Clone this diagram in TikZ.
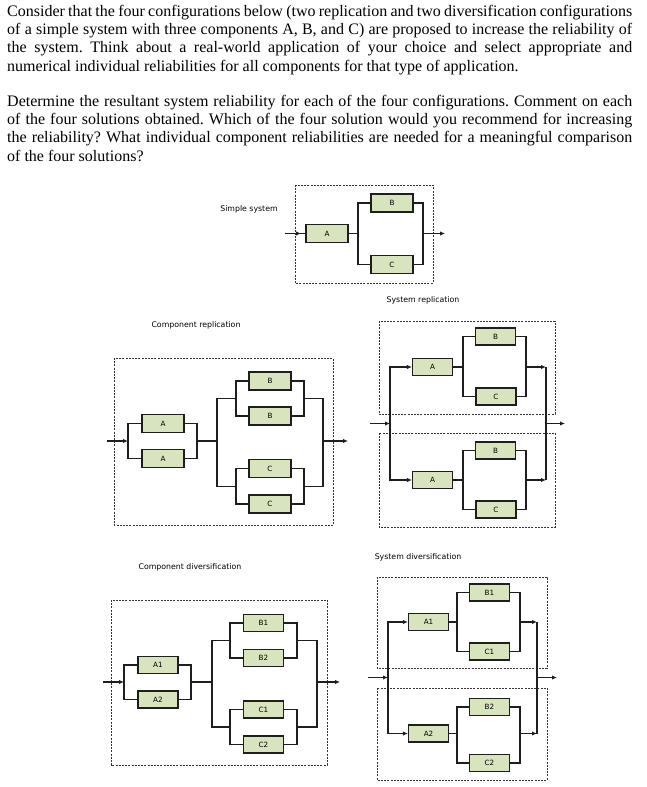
\documentclass[tikz,border=0pt]{standalone}
\usepackage{fontspec}
\setmainfont{Liberation Serif}
\newfontfamily\dgfont{DejaVu Sans}
\usetikzlibrary{arrows.meta}
\definecolor{compgreen}{RGB}{215,228,189}
\definecolor{wirec}{RGB}{30,30,30}
\frenchspacing
\begin{document}
\begin{tikzpicture}[x=1pt,y=-1pt,
  comp/.style={draw=wirec, fill=compgreen, line width=1.2pt, minimum width=42pt, minimum height=18pt, inner sep=0pt, font=\dgfont\fontsize{7.2}{8}\selectfont},
  compS/.style={comp, minimum width=40pt, minimum height=17pt},
  wire/.style={draw=wirec, line width=1.2pt},
  arr/.style={wire, -{Latex[length=5pt,width=4.5pt]}},
  frame/.style={draw=black!80, line width=0.7pt, dash pattern=on 2pt off 1.2pt},
  lbl/.style={font=\dgfont\fontsize{7.8}{9}\selectfont, inner sep=0pt},
  para/.style={anchor=north west, inner sep=0pt, text width=625pt, align=justify, font=\fontsize{16}{18.4}\selectfont\frenchspacing}
]
\useasboundingbox (0,0) rectangle (646,787);

% ---------- text ----------
\node[para] (p1) at (7,3.1) {\strut Consider that the four configurations below (two replication and two diversification configurations\linebreak of a simple system with three components A, B, and C) are proposed to increase the reliability of\linebreak the system. Think about a real-world application of your choice and select appropriate and\linebreak numerical individual reliabilities for all components for that type of application.};
\node[para] (p2) at (7,93.1) {\strut Determine the resultant system reliability for each of the four configurations. Comment on each\linebreak of the four solutions obtained. Which of the four solution would you recommend for increasing\linebreak the reliability? What individual component reliabilities are needed for a meaningful comparison\linebreak of the four solutions?};

% ---------- simple system ----------
\draw[frame] (295,185) rectangle (433,283);
\node[lbl] (lsim) at (249,209) {Simple system};
\node[comp] (sA) at (327,233.5) {A};
\node[comp] (sB) at (392,203) {B};
\node[comp] (sC) at (392,264.5) {C};
\coordinate (sin) at (285,233.5);
\coordinate (sar) at (301,233.5);
\coordinate (sj1) at (358,233.5);
\coordinate (sj2) at (423,233.5);
\coordinate (sout) at (445,233.5);
\draw[wire] (sin) -- (sA.west);
\draw[arr] (sin) -- (sar);
\draw[wire] (sA.east) -- (sj1);
\draw[wire] (sB.west) -| (sj1) |- (sC.west);
\draw[wire] (sB.east) -| (sj2) |- (sC.east);
\draw[arr] (sj2) -- (sout);

% ---------- component replication ----------
\draw[frame] (114,358) rectangle (333,525);
\node[lbl] (lcr) at (196,325) {Component replication};
\node[comp] (cA1) at (163,423.5) {A};
\node[comp] (cA2) at (163,458.5) {A};
\node[comp] (cB1) at (270,381) {B};
\node[comp] (cB2) at (270,416) {B};
\node[comp] (cC1) at (270,468.5) {C};
\node[comp] (cC2) at (270,504) {C};
\coordinate (cin) at (107,441);
\coordinate (cj1) at (128,441);
\coordinate (cj2) at (197,441);
\coordinate (cj3) at (217,441);
\coordinate (cjB) at (236,398.5);
\coordinate (cjC) at (236,486.25);
\coordinate (cjB2) at (304,398.5);
\coordinate (cjC2) at (304,486.25);
\coordinate (cj4) at (323,441);
\coordinate (cout) at (348,441);
\draw[arr] (cin) -- (cj1);
\draw[wire] (cA1.west) -| (cj1) |- (cA2.west);
\draw[wire] (cA1.east) -| (cj2) |- (cA2.east);
\draw[wire] (cj2) -- (cj3);
\draw[wire] (cB1.west) -| (cjB) |- (cB2.west);
\draw[wire] (cC1.west) -| (cjC) |- (cC2.west);
\draw[wire] (cjB) -| (cj3) |- (cjC);
\draw[wire] (cB1.east) -| (cjB2) |- (cB2.east);
\draw[wire] (cC1.east) -| (cjC2) |- (cC2.east);
\draw[wire] (cjB2) -| (cj4) |- (cjC2);
\draw[arr] (cj4) -- (cout);

% ---------- system replication ----------
\draw[frame] (379,321) rectangle (555,414);
\draw[frame] (379,433) rectangle (555,527);
\node[lbl] (lsr) at (423,300) {System replication};
\node[compS] (rA1) at (432.5,367) {A};
\node[compS] (rB1) at (495.5,336.5) {B};
\node[compS] (rC1) at (496,396.5) {C};
\node[compS] (rA2) at (432.5,480) {A};
\node[compS] (rB2) at (495.5,450.5) {B};
\node[compS] (rC2) at (496,509.5) {C};
\coordinate (rin) at (370,423.5);
\coordinate (rj1) at (390,423.5);
\coordinate (ru1) at (463,367);
\coordinate (ru2) at (526,367);
\coordinate (rl1) at (463,480);
\coordinate (rl2) at (526,480);
\coordinate (rj2) at (546,423.5);
\coordinate (rout) at (565,423.5);
\draw[arr] (rin) -- (rj1);
\draw[arr] (rj1) |- (rA1.west);
\draw[arr] (rj1) |- (rA2.west);
\draw[wire] (rA1.east) -- (ru1);
\draw[wire] (rB1.west) -| (ru1) |- (rC1.west);
\draw[wire] (rB1.east) -| (ru2) |- (rC1.east);
\draw[wire] (rA2.east) -- (rl1);
\draw[wire] (rB2.west) -| (rl1) |- (rC2.west);
\draw[wire] (rB2.east) -| (rl2) |- (rC2.east);
\draw[arr] (ru2) -- (ru2 -| rj2);
\draw[arr] (rl2) -- (rl2 -| rj2);
\draw[wire] (ru2 -| rj2) -- (rl2 -| rj2);
\draw[arr] (rj2) -- (rout);

% ---------- component diversification ----------
\draw[frame] (111,600) rectangle (327,765);
\node[lbl] (lcd) at (190,567) {Component diversification};
\node[compS] (dA1) at (158,665) {A1};
\node[compS] (dA2) at (158,699.5) {A2};
\node[compS] (dB1) at (263.5,623) {B1};
\node[compS] (dB2) at (263.5,658) {B2};
\node[compS] (dC1) at (263.5,709.5) {C1};
\node[compS] (dC2) at (263.5,744.5) {C2};
\coordinate (din) at (103,682);
\coordinate (dj1) at (124,682);
\coordinate (dj2) at (191,682);
\coordinate (dj3) at (212,682);
\coordinate (djB) at (230,640.5);
\coordinate (djC) at (230,727);
\coordinate (djB2) at (297,640.5);
\coordinate (djC2) at (297,727);
\coordinate (dj4) at (317,682);
\coordinate (dout) at (340,682);
\draw[arr] (din) -- (dj1);
\draw[wire] (dA1.west) -| (dj1) |- (dA2.west);
\draw[wire] (dA1.east) -| (dj2) |- (dA2.east);
\draw[wire] (dj2) -- (dj3);
\draw[wire] (dB1.west) -| (djB) |- (dB2.west);
\draw[wire] (dC1.west) -| (djC) |- (dC2.west);
\draw[wire] (djB) -| (dj3) |- (djC);
\draw[wire] (dB1.east) -| (djB2) |- (dB2.east);
\draw[wire] (dC1.east) -| (djC2) |- (dC2.east);
\draw[wire] (djB2) -| (dj4) |- (djC2);
\draw[arr] (dj4) -- (dout);

% ---------- system diversification ----------
\draw[frame] (377,577) rectangle (547,668);
\draw[frame] (377,688) rectangle (547,780);
\node[lbl] (lsd) at (418,557) {System diversification};
\node[compS] (eA1) at (428.5,622) {A1};
\node[compS] (eB1) at (489.5,592.5) {B1};
\node[compS] (eC1) at (489.5,651.5) {C1};
\node[compS] (eA2) at (428.5,733.5) {A2};
\node[compS] (eB2) at (489.5,707) {B2};
\node[compS] (eC2) at (489.5,763) {C2};
\coordinate (ein) at (368,677.5);
\coordinate (ej1) at (388,677.5);
\coordinate (eu1) at (457,622);
\coordinate (eu2) at (520,622);
\coordinate (el1) at (457,733.5);
\coordinate (el2) at (520,733.5);
\coordinate (ej2) at (537,677.5);
\coordinate (eout) at (557,677.5);
\draw[arr] (ein) -- (ej1);
\draw[arr] (ej1) |- (eA1.west);
\draw[arr] (ej1) |- (eA2.west);
\draw[wire] (eA1.east) -- (eu1);
\draw[wire] (eB1.west) -| (eu1) |- (eC1.west);
\draw[wire] (eB1.east) -| (eu2) |- (eC1.east);
\draw[wire] (eA2.east) -- (el1);
\draw[wire] (eB2.west) -| (el1) |- (eC2.west);
\draw[wire] (eB2.east) -| (el2) |- (eC2.east);
\draw[arr] (eu2) -- (eu2 -| ej2);
\draw[arr] (el2) -- (el2 -| ej2);
\draw[wire] (eu2 -| ej2) -- (el2 -| ej2);
\draw[arr] (ej2) -- (eout);
\end{tikzpicture}
\end{document}
